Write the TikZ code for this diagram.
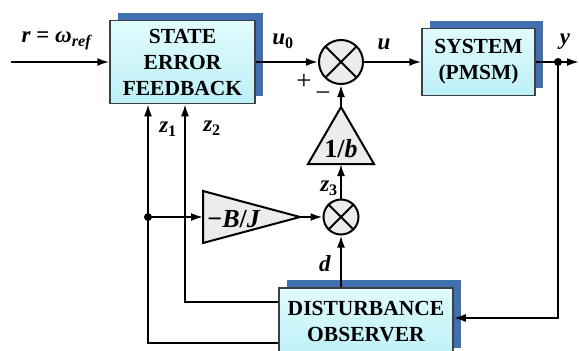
\documentclass[tikz,border=0pt]{standalone}
\usepackage{fontspec}
\setmainfont{Liberation Serif}
\usetikzlibrary{arrows.meta,shadows}

\definecolor{shadowblue}{RGB}{64,112,176}
\definecolor{boxtop}{RGB}{224,251,253}
\definecolor{boxbot}{RGB}{188,240,247}
\definecolor{gainfill}{RGB}{236,236,236}

\tikzset{
  block/.style={draw=black!75, line width=1.5pt, top color=boxtop, bottom color=boxbot,
    align=center, font=\fontsize{21.5}{26}\selectfont\bfseries,
    drop shadow={shadow xshift=7.5pt, shadow yshift=8pt, fill=shadowblue, opacity=1}},
  sumnode/.style={circle, draw, fill=gainfill, inner sep=0pt,
    path picture={\draw (path picture bounding box.north west) -- (path picture bounding box.south east)
      (path picture bounding box.south west) -- (path picture bounding box.north east);}},
  gain/.style={draw, fill=gainfill, line join=miter},
  gainlbl/.style={font=\fontsize{26}{28}\selectfont\bfseries, inner sep=0pt},
  lbl/.style={font=\fontsize{23}{25}\selectfont\bfseries, inner sep=0pt},
  sign/.style={font=\fontsize{27}{29}\selectfont, inner sep=0pt},
}

\begin{document}
\begin{tikzpicture}[x=1pt, y=-1pt, line width=2pt, >={Latex[length=12pt,width=8pt]}]
    \clip (0,0) rectangle (579,351);
    % blocks
    \node[block, minimum width=145pt, minimum height=83pt] (sef) at (182.5,62) {STATE\\ERROR\\FEEDBACK};
    \node[block, minimum width=113pt, minimum height=67pt] (sys) at (478.5,62) {SYSTEM\\(PMSM)};
    \node[block, minimum width=174pt, minimum height=68pt] (obs) at (366,322) {DISTURBANCE\\OBSERVER};
    % summing points
    \node[sumnode, minimum size=44pt] (sum1) at (341,62) {};
    \node[sumnode, minimum size=35pt] (sum2) at (341,217) {};
    % gains
    \draw[gain] (308,164) -- (374,164) -- (341,107) -- cycle;
    \coordinate (bin) at (341,164);
    \coordinate (bout) at (341,107);
    \node[gainlbl] (binv) at (341,149) {1/\textit{b}};
    \draw[gain] (203,191) -- (300,217) -- (203,243) -- cycle;
    \coordinate (bjin) at (203,217);
    \coordinate (bjout) at (300,217);
    \node[gainlbl] (bjlbl) at (234,219) {−\textit{B}/\textit{J}};
    % branch points and free ends
    \coordinate (bjdot) at (148,217);
    \coordinate (ydot) at (558,62);
    \coordinate (rin) at (11,62);
    \coordinate (yout) at (579,62);
    \fill (bjdot) circle (4pt);
    \fill (ydot) circle (4pt);
    % signals
    \draw[->] (rin) -- (sef.west);
    \draw[->] (sef.east) -- (sum1.west);
    \draw[->] (sum1.east) -- (sys.west);
    \draw (sys.east) -- (ydot);
    \draw[->] (ydot) -- (yout);
    \draw[->] (ydot) |- ([yshift=4pt]obs.east);
    \draw[->] (bout) -- (sum1.south);
    \draw[->] (sum2.north) -- (bin);
    \draw[->] (obs.north -| sum2) -- (sum2.south);
    \draw[->] (bjdot) -- (bjin);
    \draw[->] (bjout) -- (sum2.west);
    \draw[->] ([yshift=-21pt]obs.west) -| (sef.south -| bjdot);
    \draw[->] ([yshift=20pt]obs.west) -| ([xshift=2.5pt]sef.south);
    % labels
    \node[lbl] (lr) at (57,41) {\textit{r} = \textit{ω}\textsubscript{\textit{ref}}};
    \node[lbl] (lu0) at (283,41) {\textit{u}\textsubscript{0}};
    \node[lbl] (lu) at (384,44) {\textit{u}};
    \node[lbl] (ly) at (565,42) {\textit{y}};
    \node[lbl] (lz1) at (168,129) {\textit{z}\textsubscript{1}};
    \node[lbl] (lz2) at (212,128) {\textit{z}\textsubscript{2}};
    \node[lbl] (lz3) at (329,188) {\textit{z}\textsubscript{3}};
    \node[lbl] (ld) at (325,264) {\textit{d}};
    \node[sign] (lplus) at (304,82) {+};
    \node[sign] (lminus) at (323,97) {−};
\end{tikzpicture}
\end{document}
